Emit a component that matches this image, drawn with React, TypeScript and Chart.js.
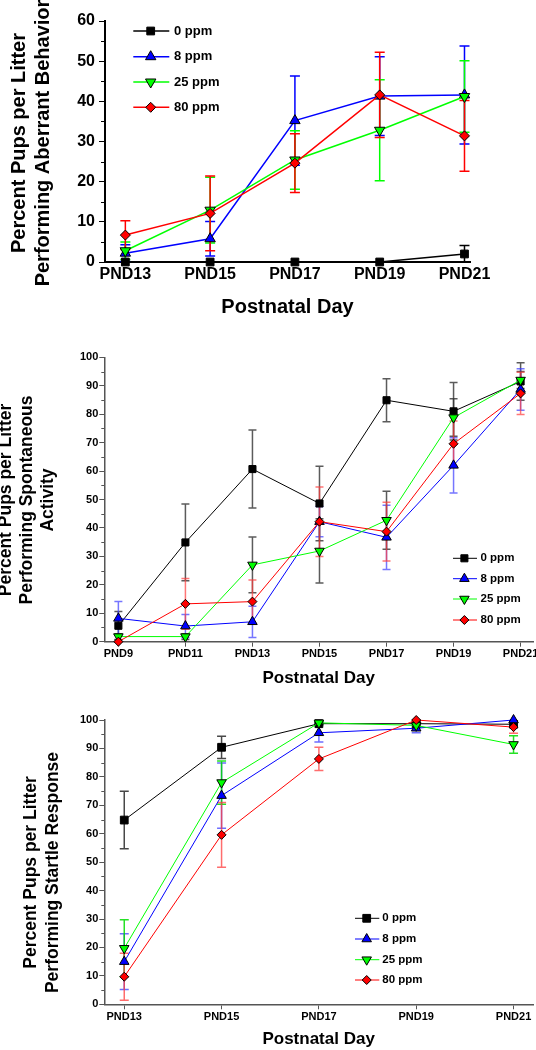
import React, { useEffect, useRef } from "react";
import { Chart, registerables } from "chart.js";

Chart.register(...registerables);

const FONT = "'Liberation Sans', Arial, Helvetica, sans-serif";

// ---- series ----
const seriesNames = ["0 ppm", "8 ppm", "25 ppm", "80 ppm"];
const seriesColors = ["#000000", "#0000ff", "#00ff00", "#ff0000"];
const seriesShapes = ["rect", "triangle", "triangle", "rectRot"];
const seriesRotations = [0, 0, 180, 0];

// ---- Panel A: aberrant behavior ----
const aberrantDays = [13, 15, 17, 19, 21];
const aberrantLabels = ["PND13", "PND15", "PND17", "PND19", "PND21"];
const aberrantMean0 = [0, 0, 0, 0, 2.0];
const aberrantSem0 = [0, 0, 0, 0, 2.1];
const aberrantMean8 = [2.2, 5.8, 35.2, 41.3, 41.6];
const aberrantSem8 = [2.1, 4.3, 11.1, 9.8, 12.2];
const aberrantMean25 = [2.8, 12.9, 25.4, 32.8, 41.2];
const aberrantSem25 = [2.2, 8.2, 7.3, 12.6, 8.9];
const aberrantMean80 = [6.7, 12.1, 24.6, 41.6, 31.4];
const aberrantSem80 = [3.6, 9.3, 7.3, 10.6, 8.8];

// ---- Panel B: spontaneous activity ----
const spontDays = [9, 11, 13, 15, 17, 19, 21];
const spontLabels = ["PND9", "PND11", "PND13", "PND15", "PND17", "PND19", "PND21"];
const spontMean0 = [5.6, 34.9, 60.7, 48.6, 84.9, 81.0, 91.5];
const spontSem0 = [5.0, 13.5, 13.7, 13.1, 7.6, 10.1, 6.6];
const spontMean8 = [8.2, 5.5, 7.0, 42.2, 36.7, 62.0, 88.7];
const spontSem8 = [5.9, 4.1, 5.5, 5.3, 11.3, 9.7, 7.3];
const spontMean25 = [1.8, 1.8, 27.0, 31.9, 42.7, 78.8, 92.0];
const spontSem25 = [1.0, 1.0, 9.8, 11.3, 10.2, 6.6, 3.0];
const spontMean80 = [0, 13.3, 14.1, 42.2, 38.7, 69.6, 87.3];
const spontSem80 = [0, 8.9, 7.6, 12.2, 10.3, 8.0, 7.4];

// ---- Panel C: startle response ----
const startleDays = [13, 15, 17, 19, 21];
const startleLabels = ["PND13", "PND15", "PND17", "PND19", "PND21"];
const startleMean0 = [64.8, 90.4, 98.7, 98.7, 98.5];
const startleSem0 = [10.1, 3.9, 0.5, 0.5, 0.8];
const startleMean8 = [15.0, 73.4, 95.5, 97.1, 100];
const startleSem8 = [9.8, 11.5, 3.2, 1.6, 0];
const startleMean25 = [19.7, 78.0, 99.0, 98.1, 91.4];
const startleSem25 = [10.0, 7.6, 0.5, 0.8, 3.1];
const startleMean80 = [9.7, 59.6, 86.3, 100, 97.5];
const startleSem80 = [8.3, 11.4, 4.1, 0, 2.2];

const xTitleText = "Postnatal Day";

function drawMarker(ctx, style, x, y, r, rotDeg, fill, stroke, lw) {
  ctx.save();
  ctx.beginPath();
  if (style === "rect") {
    const s = Math.SQRT1_2 * r;
    ctx.rect(x - s, y - s, 2 * s, 2 * s);
  } else if (style === "rectRot") {
    ctx.moveTo(x - r, y);
    ctx.lineTo(x, y - r);
    ctx.lineTo(x + r, y);
    ctx.lineTo(x, y + r);
    ctx.closePath();
  } else {
    let a = (rotDeg * Math.PI) / 180;
    ctx.moveTo(x + Math.sin(a) * r, y - Math.cos(a) * r);
    a += (2 * Math.PI) / 3;
    ctx.lineTo(x + Math.sin(a) * r, y - Math.cos(a) * r);
    a += (2 * Math.PI) / 3;
    ctx.lineTo(x + Math.sin(a) * r, y - Math.cos(a) * r);
    ctx.closePath();
  }
  ctx.fillStyle = fill;
  ctx.fill();
  ctx.strokeStyle = stroke;
  ctx.lineWidth = lw;
  ctx.stroke();
  ctx.restore();
}

const panelA = {
  top: 0,
  height: 325,
  days: aberrantDays,
  dayLabels: aberrantLabels,
  means: [aberrantMean0, aberrantMean8, aberrantMean25, aberrantMean80],
  sems: [aberrantSem0, aberrantSem8, aberrantSem25, aberrantSem80],
  xMin: 12.52,
  xMax: 21.13,
  yMax: 60,
  yStep: 10,
  area: { left: 105, right: 470, top: 21, bottom: 262 },
  tickFont: 16,
  yTickLen: 6,
  yTickPad: 4,
  minorLen: 4,
  xTickLen: 0,
  xTickPad: 3,
  axisColor: "#000000",
  axisWidth: 2,
  lineWidth: 1.5,
  radii: [5.5, 6, 6, 5],
  errColors: ["#000000", "#0000ff", "#00ff00", "#ff0000"],
  errWidth: 1.5,
  capHalf: 5,
  xTitleSize: 20,
  xTitlePad: 6,
  yTitleLines: ["Percent Pups per Litter", "Performing Aberrant Behavior"],
  yTitleXs: [19.4, 43.3],
  yTitleCy: 143,
  yTitleSize: 20,
  legend: { x0: 133.3, x1: 169.3, xm: 150.7, xt: 174, rows: [31, 56.7, 82, 107.3], size: 13 },
};

const panelB = {
  top: 330,
  height: 360,
  days: spontDays,
  dayLabels: spontLabels,
  means: [spontMean0, spontMean8, spontMean25, spontMean80],
  sems: [spontSem0, spontSem8, spontSem25, spontSem80],
  xMin: 8.58,
  xMax: 21.37,
  yMax: 100,
  yStep: 10,
  area: { left: 104.3, right: 533, top: 27.3, bottom: 311.7 },
  tickFont: 11,
  yTickLen: 5,
  yTickPad: 1,
  minorLen: 3,
  xTickLen: 5,
  xTickPad: 1,
  axisColor: "#555555",
  axisWidth: 1.5,
  lineWidth: 1,
  radii: [5, 5.5, 5.5, 4.5],
  errColors: ["rgba(50,50,50,0.8)", "rgba(60,60,255,0.7)", "rgba(50,50,50,0.8)", "rgba(255,60,60,0.7)"],
  errWidth: 1.5,
  capHalf: 4,
  xTitleSize: 17,
  xTitlePad: 1.5,
  yTitleLines: ["Percent Pups per Litter", "Performing Spontaneous", "Activity"],
  yTitleXs: [6, 27, 48],
  yTitleCy: 170,
  yTitleSize: 17.5,
  legend: { x0: 453, x1: 477, xm: 464.4, xt: 480.5, rows: [228.3, 248.7, 269, 290], size: 11.5 },
};

const panelC = {
  top: 690,
  height: 360,
  days: startleDays,
  dayLabels: startleLabels,
  means: [startleMean0, startleMean8, startleMean25, startleMean80],
  sems: [startleSem0, startleSem8, startleSem25, startleSem80],
  xMin: 12.59,
  xMax: 21.4,
  yMax: 100,
  yStep: 10,
  area: { left: 104.3, right: 533, top: 30, bottom: 314.3 },
  tickFont: 11,
  yTickLen: 5,
  yTickPad: 1,
  minorLen: 3,
  xTickLen: 5,
  xTickPad: 1,
  axisColor: "#555555",
  axisWidth: 1.5,
  lineWidth: 1,
  radii: [5.5, 5.5, 5.5, 4.5],
  errColors: ["rgba(40,40,40,0.85)", "rgba(60,60,255,0.75)", "rgba(0,220,0,0.85)", "rgba(255,60,60,0.75)"],
  errWidth: 1.5,
  capHalf: 4.5,
  xTitleSize: 17,
  xTitlePad: 0,
  yTitleLines: ["Percent Pups per Litter", "Performing Startle Response"],
  yTitleXs: [31.5, 53],
  yTitleCy: 182.5,
  yTitleSize: 17.5,
  legend: { x0: 355, x1: 379.3, xm: 366.7, xt: 382.3, rows: [228.3, 249, 269.7, 290], size: 11.5 },
};

function Panel({ spec }) {
  const ref = useRef(null);
  useEffect(() => {
    const canvas = ref.current;
    if (!canvas) return;

    const datasets = seriesNames.map((name, i) => ({
      label: name,
      data: spec.days.map((d, j) => ({ x: d, y: spec.means[i][j] })),
      borderColor: seriesColors[i],
      backgroundColor: seriesColors[i],
      borderWidth: spec.lineWidth,
      pointStyle: seriesShapes[i],
      pointRotation: seriesRotations[i],
      pointRadius: spec.radii[i],
      pointBackgroundColor: seriesColors[i],
      pointBorderColor: "#000000",
      pointBorderWidth: 1,
      tension: 0,
      fill: false,
      clip: false,
      order: seriesNames.length - 1 - i,
    }));

    const errorBars = {
      id: "errorBars",
      beforeDatasetsDraw(chart) {
        const ctx = chart.ctx;
        const xs = chart.scales.x;
        const ys = chart.scales.y;
        const c = spec.capHalf;
        for (let i = 0; i < seriesNames.length; i++) {
          ctx.save();
          ctx.strokeStyle = spec.errColors[i];
          ctx.lineWidth = spec.errWidth;
          spec.days.forEach((d, j) => {
            const m = spec.means[i][j];
            const s = spec.sems[i][j];
            if (!s) return;
            const px = xs.getPixelForValue(d);
            const hi = ys.getPixelForValue(m + s);
            const loVal = Math.max(0, m - s);
            const lo = ys.getPixelForValue(loVal);
            ctx.beginPath();
            ctx.moveTo(px, hi);
            ctx.lineTo(px, lo);
            ctx.moveTo(px - c, hi);
            ctx.lineTo(px + c, hi);
            if (m - s > 0) {
              ctx.moveTo(px - c, lo);
              ctx.lineTo(px + c, lo);
            }
            ctx.stroke();
          });
          ctx.restore();
        }
      },
    };

    const decorations = {
      id: "decorations",
      afterDraw(chart) {
        const ctx = chart.ctx;
        const ys = chart.scales.y;
        const left = chart.chartArea.left;
        // minor ticks
        ctx.save();
        ctx.strokeStyle = spec.axisColor;
        ctx.lineWidth = 1;
        ctx.beginPath();
        for (let v = spec.yStep / 2; v < spec.yMax; v += spec.yStep) {
          const py = Math.round(ys.getPixelForValue(v)) + 0.5;
          ctx.moveTo(left, py);
          ctx.lineTo(left - spec.minorLen, py);
        }
        ctx.stroke();
        ctx.restore();

        // y title
        ctx.save();
        ctx.font = `bold ${spec.yTitleSize}px ${FONT}`;
        ctx.fillStyle = "#000000";
        ctx.textAlign = "center";
        ctx.textBaseline = "middle";
        spec.yTitleLines.forEach((t, k) => {
          ctx.save();
          ctx.translate(spec.yTitleXs[k], spec.yTitleCy);
          ctx.rotate(-Math.PI / 2);
          ctx.fillText(t, 0, 0);
          ctx.restore();
        });
        ctx.restore();

        // legend
        const lg = spec.legend;
        ctx.save();
        chart.data.datasets.forEach((ds, i) => {
          const y = lg.rows[i];
          ctx.strokeStyle = ds.borderColor;
          ctx.lineWidth = spec.lineWidth;
          ctx.beginPath();
          ctx.moveTo(lg.x0, y);
          ctx.lineTo(lg.x1, y);
          ctx.stroke();
          drawMarker(ctx, seriesShapes[i], lg.xm, y, spec.radii[i], seriesRotations[i], seriesColors[i], "#000000", 1);
          ctx.font = `bold ${lg.size}px ${FONT}`;
          ctx.fillStyle = "#000000";
          ctx.textAlign = "left";
          ctx.textBaseline = "middle";
          ctx.fillText(ds.label, lg.xt, y);
        });
        ctx.restore();
      },
    };

    const chart = new Chart(canvas, {
      type: "line",
      data: { datasets },
      options: {
        responsive: false,
        maintainAspectRatio: false,
        animation: false,
        devicePixelRatio: 1,
        layout: {
          autoPadding: false,
          padding: { left: 0, top: spec.area.top, right: 536 - spec.area.right, bottom: 0 },
        },
        plugins: { legend: { display: false }, tooltip: { enabled: false }, title: { display: false } },
        scales: {
          x: {
            type: "linear",
            min: spec.xMin,
            max: spec.xMax,
            afterBuildTicks: (s) => {
              s.ticks = spec.days.map((v) => ({ value: v }));
            },
            afterFit: (s) => {
              s.height = spec.height - spec.area.bottom;
              s.paddingLeft = 0;
              s.paddingRight = 0;
            },
            ticks: {
              autoSkip: false,
              maxRotation: 0,
              minRotation: 0,
              padding: spec.xTickPad,
              color: "#000000",
              font: { size: spec.tickFont, weight: "bold", family: FONT },
              callback: (v) => {
                const k = spec.days.indexOf(Number(v));
                return k >= 0 ? spec.dayLabels[k] : "";
              },
            },
            grid: {
              drawOnChartArea: false,
              drawTicks: spec.xTickLen > 0,
              tickLength: spec.xTickLen,
              tickColor: spec.axisColor,
              tickWidth: 1,
              color: spec.axisColor,
            },
            border: { display: true, color: spec.axisColor, width: spec.axisWidth },
            title: {
              display: true,
              text: xTitleText,
              color: "#000000",
              font: { size: spec.xTitleSize, weight: "bold", family: FONT },
              padding: { top: 0, bottom: spec.xTitlePad },
            },
          },
          y: {
            type: "linear",
            min: 0,
            max: spec.yMax,
            afterFit: (s) => {
              s.width = spec.area.left;
              s.paddingTop = 0;
              s.paddingBottom = 0;
            },
            ticks: {
              stepSize: spec.yStep,
              padding: spec.yTickPad,
              color: "#000000",
              font: { size: spec.tickFont, weight: "bold", family: FONT },
            },
            grid: {
              drawOnChartArea: false,
              drawTicks: true,
              tickLength: spec.yTickLen,
              tickColor: spec.axisColor,
              tickWidth: 1,
              color: spec.axisColor,
            },
            border: { display: true, color: spec.axisColor, width: spec.axisWidth },
          },
        },
      },
      plugins: [errorBars, decorations],
    });
    return () => chart.destroy();
  }, [spec]);

  return (
    <canvas
      ref={ref}
      width={536}
      height={spec.height}
      style={{ position: "absolute", left: 0, top: spec.top, width: 536, height: spec.height }}
    />
  );
}

export default function App() {
  return (
    <div style={{ position: "absolute", left: 0, top: 0, width: 536, height: 1050, background: "#ffffff", overflow: "hidden" }}>
      <Panel spec={panelA} />
      <Panel spec={panelB} />
      <Panel spec={panelC} />
    </div>
  );
}
